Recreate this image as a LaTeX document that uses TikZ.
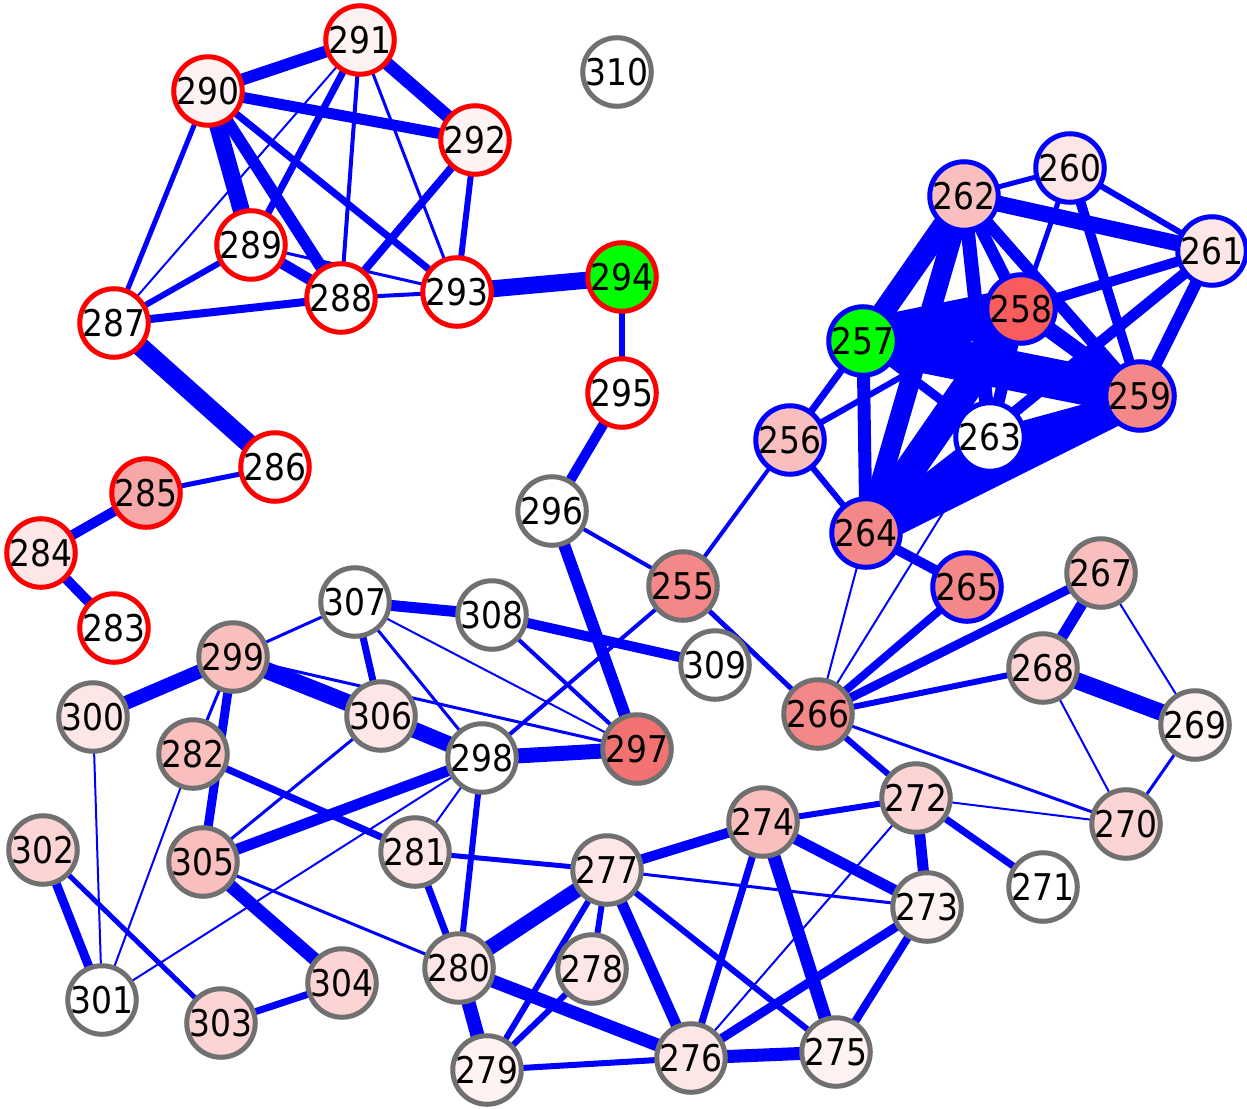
\documentclass[tikz,border=0pt]{standalone}
\usepackage{fontspec}
\setmainfont{DejaVu Sans}
\usetikzlibrary{backgrounds}
\definecolor{nred}{HTML}{FF0000}
\definecolor{nblue}{HTML}{0000FF}
\definecolor{ngray}{HTML}{707070}
\definecolor{eblue}{HTML}{0000FF}
\definecolor{fgreen}{HTML}{00FF00}
\definecolor{fw}{HTML}{FFFFFF}
\definecolor{fa}{HTML}{FEF2F2}
\definecolor{fb}{HTML}{FDE6E6}
\definecolor{fc}{HTML}{FCD4D4}
\definecolor{fd}{HTML}{F9BEBE}
\definecolor{fe}{HTML}{F6A8A8}
\definecolor{ff}{HTML}{F48888}
\definecolor{fg}{HTML}{F27272}
\definecolor{fh}{HTML}{F85C5C}
\tikzset{
  nd/.style={circle, minimum size=65pt, inner sep=0pt, line width=5pt,
             font=\fontsize{32}{32}\selectfont},
  rb/.style={nd, draw=nred, fill=#1},
  bb/.style={nd, draw=nblue, fill=#1},
  gb/.style={nd, draw=ngray, fill=#1},
  ed/.style={draw=eblue, line width=#1pt}
}
\newcommand{\nlab}[1]{\scalebox{1.03}[1.15]{#1}}
\begin{document}
\begin{tikzpicture}[x=1pt,y=-1pt]
\path[use as bounding box] (0,0) rectangle (1247,1108);
% red group
\node[rb=fa] (n291) at (360,40) {\nlab{291}};
\node[rb=fa] (n290) at (208,91) {\nlab{290}};
\node[rb=fa] (n292) at (475,140) {\nlab{292}};
\node[rb=fw] (n289) at (251,245) {\nlab{289}};
\node[rb=fw] (n288) at (341,298) {\nlab{288}};
\node[rb=fw] (n293) at (457,292) {\nlab{293}};
\node[rb=fgreen] (n294) at (622,277) {\nlab{294}};
\node[rb=fw] (n287) at (114,323) {\nlab{287}};
\node[rb=fw] (n295) at (622,393) {\nlab{295}};
\node[rb=fw] (n286) at (275,467) {\nlab{286}};
\node[rb=fe] (n285) at (146,493) {\nlab{285}};
\node[rb=fb] (n284) at (41,553) {\nlab{284}};
\node[rb=fw] (n283) at (114,628) {\nlab{283}};
% blue group
\node[bb=fd] (n262) at (964,196) {\nlab{262}};
\node[bb=fb] (n260) at (1070,168) {\nlab{260}};
\node[bb=fb] (n261) at (1212,251) {\nlab{261}};
\node[bb=fh] (n258) at (1021,309) {\nlab{258}};
\node[bb=fgreen] (n257) at (863,341) {\nlab{257}};
\node[bb=ff] (n259) at (1140,396) {\nlab{259}};
\node[bb=fw] (n263) at (990,437) {\nlab{263}};
\node[bb=fd] (n256) at (790,440) {\nlab{256}};
\node[bb=ff] (n264) at (866,533) {\nlab{264}};
\node[bb=ff] (n265) at (967,587) {\nlab{265}};
% gray group
\node[gb=fw] (n310) at (617,72) {\nlab{310}};
\node[gb=fw] (n296) at (552,511) {\nlab{296}};
\node[gb=ff] (n255) at (683,586) {\nlab{255}};
\node[gb=fw] (n307) at (355,602) {\nlab{307}};
\node[gb=fw] (n308) at (492,615) {\nlab{308}};
\node[gb=fw] (n309) at (715,665) {\nlab{309}};
\node[gb=fd] (n299) at (233,657) {\nlab{299}};
\node[gb=fb] (n300) at (93,717) {\nlab{300}};
\node[gb=fb] (n306) at (381,716) {\nlab{306}};
\node[gb=fw] (n298) at (482,758) {\nlab{298}};
\node[gb=fg] (n297) at (637,749) {\nlab{297}};
\node[gb=fd] (n282) at (193,754) {\nlab{282}};
\node[gb=ff] (n266) at (818,714) {\nlab{266}};
\node[gb=fd] (n267) at (1101,573) {\nlab{267}};
\node[gb=fc] (n268) at (1043,668) {\nlab{268}};
\node[gb=fa] (n269) at (1195,725) {\nlab{269}};
\node[gb=fc] (n270) at (1126,824) {\nlab{270}};
\node[gb=fw] (n271) at (1043,887) {\nlab{271}};
\node[gb=fc] (n272) at (916,798) {\nlab{272}};
\node[gb=fa] (n273) at (927,907) {\nlab{273}};
\node[gb=fd] (n274) at (763,822) {\nlab{274}};
\node[gb=fa] (n275) at (836,1052) {\nlab{275}};
\node[gb=fb] (n276) at (691,1058) {\nlab{276}};
\node[gb=fb] (n277) at (607,870) {\nlab{277}};
\node[gb=fb] (n278) at (592,969) {\nlab{278}};
\node[gb=fa] (n279) at (487,1070) {\nlab{279}};
\node[gb=fb] (n280) at (459,968) {\nlab{280}};
\node[gb=fb] (n281) at (415,852) {\nlab{281}};
\node[gb=fc] (n302) at (43,850) {\nlab{302}};
\node[gb=fd] (n305) at (203,862) {\nlab{305}};
\node[gb=fc] (n304) at (342,983) {\nlab{304}};
\node[gb=fw] (n301) at (102,1000) {\nlab{301}};
\node[gb=fc] (n303) at (221,1023) {\nlab{303}};
\begin{scope}[on background layer]
% top-left cluster
\draw[ed=12] (n290.center) -- (n291.center);
\draw[ed=11] (n290.center) -- (n292.center);
\draw[ed=13] (n291.center) -- (n292.center);
\draw[ed=17] (n290.center) -- (n289.center);
\draw[ed=12] (n290.center) -- (n288.center);
\draw[ed=7] (n290.center) -- (n293.center);
\draw[ed=5] (n290.center) -- (n287.center);
\draw[ed=7] (n291.center) -- (n289.center);
\draw[ed=4] (n291.center) -- (n288.center);
\draw[ed=3] (n291.center) -- (n293.center);
\draw[ed=2] (n291.center) -- (n287.center);
\draw[ed=6] (n292.center) -- (n293.center);
\draw[ed=8] (n292.center) -- (n288.center);
\draw[ed=11] (n289.center) -- (n288.center);
\draw[ed=6] (n289.center) -- (n287.center);
\draw[ed=3] (n289.center) -- (n293.center);
\draw[ed=8] (n287.center) -- (n288.center);
\draw[ed=4] (n288.center) -- (n293.center);
\draw[ed=17] (n293.center) -- (n294.center);
\draw[ed=6] (n294.center) -- (n295.center);
\draw[ed=10] (n295.center) -- (n296.center);
\draw[ed=19] (n287.center) -- (n286.center);
\draw[ed=5] (n286.center) -- (n285.center);
\draw[ed=10] (n285.center) -- (n284.center);
\draw[ed=10] (n284.center) -- (n283.center);
% middle
\draw[ed=12] (n296.center) -- (n297.center);
\draw[ed=4] (n296.center) -- (n255.center);
\draw[ed=4] (n255.center) -- (n298.center);
\draw[ed=4] (n255.center) -- (n256.center);
\draw[ed=5] (n255.center) -- (n266.center);
\draw[ed=11] (n307.center) -- (n308.center);
\draw[ed=10] (n308.center) -- (n309.center);
\draw[ed=7] (n307.center) -- (n306.center);
\draw[ed=3] (n307.center) -- (n298.center);
\draw[ed=2] (n307.center) -- (n297.center);
\draw[ed=3] (n307.center) -- (n299.center);
\draw[ed=4] (n308.center) -- (n297.center);
\draw[ed=14] (n299.center) -- (n300.center);
\draw[ed=17] (n299.center) -- (n306.center);
\draw[ed=16] (n306.center) -- (n298.center);
\draw[ed=3] (n299.center) -- (n297.center);
\draw[ed=15] (n298.center) -- (n297.center);
\draw[ed=11] (n298.center) -- (n305.center);
\draw[ed=2] (n298.center) -- (n281.center);
\draw[ed=6] (n298.center) -- (n280.center);
\draw[ed=2] (n298.center) -- (n301.center);
\draw[ed=3] (n306.center) -- (n305.center);
\draw[ed=3] (n299.center) -- (n282.center);
\draw[ed=9] (n299.center) -- (n305.center);
\draw[ed=7] (n282.center) -- (n281.center);
\draw[ed=2] (n282.center) -- (n301.center);
\draw[ed=2] (n300.center) -- (n301.center);
\draw[ed=9] (n302.center) -- (n301.center);
\draw[ed=5] (n302.center) -- (n303.center);
\draw[ed=7] (n303.center) -- (n304.center);
\draw[ed=13] (n305.center) -- (n304.center);
\draw[ed=3] (n305.center) -- (n280.center);
\draw[ed=5] (n281.center) -- (n277.center);
\draw[ed=7] (n281.center) -- (n280.center);
\draw[ed=15] (n280.center) -- (n277.center);
\draw[ed=14] (n280.center) -- (n279.center);
\draw[ed=13] (n280.center) -- (n276.center);
\draw[ed=6] (n277.center) -- (n279.center);
\draw[ed=6] (n278.center) -- (n279.center);
\draw[ed=6] (n277.center) -- (n278.center);
\draw[ed=11] (n277.center) -- (n276.center);
\draw[ed=6] (n277.center) -- (n275.center);
\draw[ed=10] (n277.center) -- (n274.center);
\draw[ed=3] (n277.center) -- (n273.center);
\draw[ed=6] (n279.center) -- (n276.center);
\draw[ed=13] (n276.center) -- (n275.center);
\draw[ed=7] (n276.center) -- (n274.center);
\draw[ed=2] (n276.center) -- (n272.center);
\draw[ed=9] (n276.center) -- (n273.center);
\draw[ed=13] (n274.center) -- (n275.center);
\draw[ed=11] (n274.center) -- (n273.center);
\draw[ed=6] (n274.center) -- (n272.center);
\draw[ed=11] (n272.center) -- (n273.center);
\draw[ed=7] (n272.center) -- (n271.center);
\draw[ed=6] (n272.center) -- (n266.center);
\draw[ed=2] (n272.center) -- (n270.center);
\draw[ed=8] (n273.center) -- (n275.center);
\draw[ed=3] (n266.center) -- (n270.center);
\draw[ed=2] (n266.center) -- (n264.center);
\draw[ed=2] (n266.center) -- (n263.center);
\draw[ed=8] (n266.center) -- (n265.center);
\draw[ed=9] (n266.center) -- (n267.center);
\draw[ed=6] (n266.center) -- (n268.center);
\draw[ed=10] (n264.center) -- (n265.center);
\draw[ed=6] (n264.center) -- (n256.center);
\draw[ed=7] (n256.center) -- (n257.center);
\draw[ed=6] (n256.center) -- (n258.center);
\draw[ed=11] (n267.center) -- (n268.center);
\draw[ed=2] (n267.center) -- (n269.center);
\draw[ed=17] (n268.center) -- (n269.center);
\draw[ed=2] (n268.center) -- (n270.center);
\draw[ed=3] (n269.center) -- (n270.center);
% right cluster
\draw[ed=5] (n262.center) -- (n260.center);
\draw[ed=16] (n262.center) -- (n261.center);
\draw[ed=6] (n260.center) -- (n261.center);
\draw[ed=5] (n260.center) -- (n258.center);
\draw[ed=10] (n260.center) -- (n259.center);
\draw[ed=10] (n261.center) -- (n258.center);
\draw[ed=12] (n261.center) -- (n259.center);
\draw[ed=11] (n261.center) -- (n264.center);
\draw[ed=22] (n262.center) -- (n257.center);
\draw[ed=20] (n262.center) -- (n264.center);
\draw[ed=14] (n262.center) -- (n263.center);
\draw[ed=12] (n262.center) -- (n258.center);
\draw[ed=12] (n262.center) -- (n259.center);
\draw[ed=44] (n257.center) -- (n258.center);
\draw[ed=40] (n257.center) -- (n259.center);
\draw[ed=9] (n257.center) -- (n263.center);
\draw[ed=13] (n257.center) -- (n264.center);
\draw[ed=16] (n258.center) -- (n259.center);
\draw[ed=30] (n258.center) -- (n264.center);
\draw[ed=34] (n259.center) -- (n264.center);
\draw[ed=14] (n259.center) -- (n263.center);
\draw[ed=22] (n263.center) -- (n264.center);
\draw[ed=12] (n258.center) -- (n263.center);
\end{scope}
\end{tikzpicture}
\end{document}
